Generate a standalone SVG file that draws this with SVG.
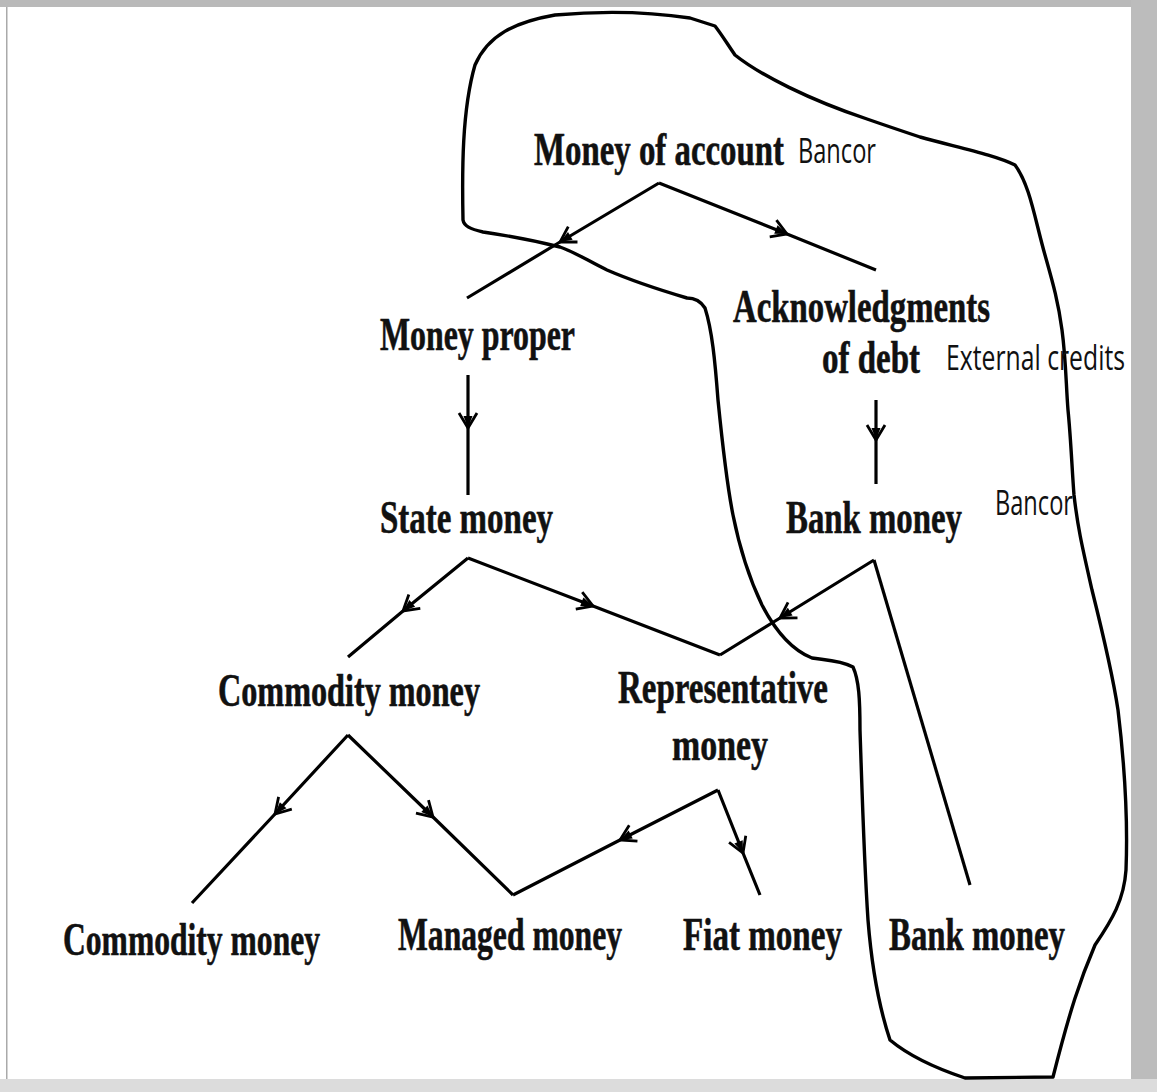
<svg xmlns="http://www.w3.org/2000/svg" width="1157" height="1092" viewBox="0 0 1157 1092">
<style>
.lbl{font-family:"Liberation Serif","DejaVu Serif",serif;font-weight:bold;font-size:46px;fill:#111;stroke:#111;stroke-width:0.6}
.hand{font-family:"Open Sans","DejaVu Sans",sans-serif;font-size:34px;fill:#111}
.con{fill:none;stroke:#000;stroke-width:3.2;stroke-linejoin:miter}
.blob{fill:none;stroke:#000;stroke-width:3.4;stroke-linejoin:round;stroke-linecap:round}
</style>
<defs>
<marker id="ah" markerUnits="userSpaceOnUse" markerWidth="30" markerHeight="30" refX="0" refY="0" viewBox="-15 -15 30 30" orient="auto" overflow="visible">
<path d="M-15,-9 L0,0 L-15,9" fill="none" stroke="#000" stroke-width="2.8"/>
<path d="M-12,-4.5 L0,0 L-12,4.5 Z" fill="#000"/>
</marker>
</defs>
<rect x="0" y="0" width="1157" height="1092" fill="#fff"/>
<g id="frame">
<rect x="0" y="0" width="1157" height="7" fill="#b9b9b9"/>
<rect x="1131" y="0" width="26" height="1092" fill="#bcbcbc"/>
<rect x="0" y="1079" width="1157" height="13" fill="#dcdcdc"/>
<rect x="6" y="7" width="1.5" height="1072" fill="#aaa"/>
</g>
<g id="boundary">
<path class="blob" d="M463,220 C462,170 462,110 475,65 C488,35 515,22 555,15 C600,11 650,12 690,18 L715,26 C722,35 728,45 735,55 C760,75 810,100 867,119 C890,127 905,132 920,137 C960,148 995,155 1015,165 C1030,185 1035,220 1045,255 C1052,280 1058,300 1062,330 C1066,360 1066,385 1068,410 C1071,440 1072,470 1074,495 C1078,530 1083,550 1092,590 C1102,630 1112,670 1118,710 C1124,760 1128,820 1126,870 C1124,900 1112,920 1095,945 C1080,980 1070,1010 1053,1077 L965,1078 C935,1068 908,1055 890,1040 C880,1010 872,970 868,920 C864,860 862,790 860,730 C860,700 859,680 853,667 C840,660 825,660 812,658 C792,650 775,630 762,605 C750,580 740,550 733,515 C726,480 722,440 718,400 C715,360 712,330 705,308 C700,300 693,298 687,298 C660,290 630,280 607,270 C590,262 575,252 560,247 C540,242 510,236 483,232 C470,229 464,226 463,220 Z"/>
</g>
<g id="connectors">
<path class="con" d="M659,183 L560,242 L467,298" marker-mid="url(#ah)"/>
<path class="con" d="M659,183 L787,234 L876,270" marker-mid="url(#ah)"/>
<path class="con" d="M468,375 L468,428 L468,495" marker-mid="url(#ah)"/>
<path class="con" d="M876,400 L876,440 L876,484" marker-mid="url(#ah)"/>
<path class="con" d="M468,558 L403,611 L348,657" marker-mid="url(#ah)"/>
<path class="con" d="M468,558 L593,606 L720,655" marker-mid="url(#ah)"/>
<path class="con" d="M874,560 L780,618 L720,655" marker-mid="url(#ah)"/>
<path class="con" d="M874,560 L970,885"/>
<path class="con" d="M348,735 L275,814 L192,903" marker-mid="url(#ah)"/>
<path class="con" d="M348,735 L433,817 L513,895" marker-mid="url(#ah)"/>
<path class="con" d="M718,790 L620,840 L513,895" marker-mid="url(#ah)"/>
<path class="con" d="M718,790 L743,853 L760,895" marker-mid="url(#ah)"/>
</g>
<g id="n-money-of-account"><text class="lbl" x="534" y="165" textLength="250" lengthAdjust="spacingAndGlyphs">Money of account</text></g>
<g id="n-bancor-1"><text class="hand" x="798" y="163" textLength="78" lengthAdjust="spacingAndGlyphs">Bancor</text></g>
<g id="n-money-proper"><text class="lbl" x="380" y="350" textLength="195" lengthAdjust="spacingAndGlyphs">Money proper</text></g>
<g id="n-ack"><text class="lbl" x="733" y="322" textLength="257" lengthAdjust="spacingAndGlyphs">Acknowledgments</text><text class="lbl" x="822" y="373" textLength="98" lengthAdjust="spacingAndGlyphs">of debt</text></g>
<g id="n-external-credits"><text class="hand" x="946" y="370" textLength="179" lengthAdjust="spacingAndGlyphs">External credits</text></g>
<g id="n-state-money"><text class="lbl" x="380" y="533" textLength="173" lengthAdjust="spacingAndGlyphs">State money</text></g>
<g id="n-bank-money-1"><text class="lbl" x="786" y="533" textLength="176" lengthAdjust="spacingAndGlyphs">Bank money</text></g>
<g id="n-bancor-2"><text class="hand" x="995" y="515" textLength="78" lengthAdjust="spacingAndGlyphs">Bancor</text></g>
<g id="n-commodity-money-1"><text class="lbl" x="218" y="706" textLength="262" lengthAdjust="spacingAndGlyphs">Commodity money</text></g>
<g id="n-representative-money"><text class="lbl" x="618" y="703" textLength="210" lengthAdjust="spacingAndGlyphs">Representative</text><text class="lbl" x="672" y="760" textLength="96" lengthAdjust="spacingAndGlyphs">money</text></g>
<g id="n-commodity-money-2"><text class="lbl" x="63" y="955" textLength="257" lengthAdjust="spacingAndGlyphs">Commodity money</text></g>
<g id="n-managed-money"><text class="lbl" x="398" y="950" textLength="224" lengthAdjust="spacingAndGlyphs">Managed money</text></g>
<g id="n-fiat-money"><text class="lbl" x="683" y="950" textLength="159" lengthAdjust="spacingAndGlyphs">Fiat money</text></g>
<g id="n-bank-money-2"><text class="lbl" x="889" y="950" textLength="176" lengthAdjust="spacingAndGlyphs">Bank money</text></g>
</svg>
